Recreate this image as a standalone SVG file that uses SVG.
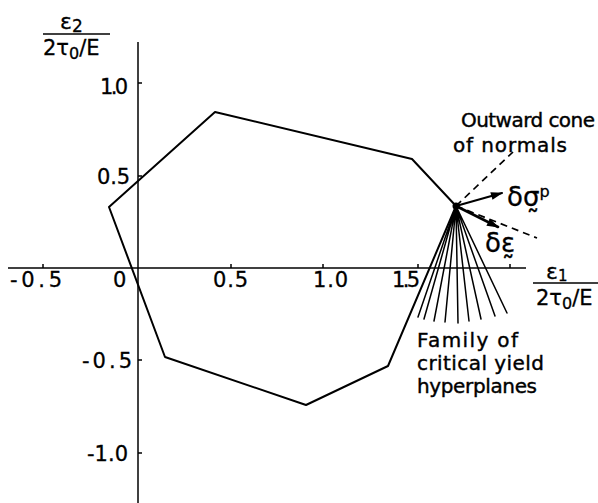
<svg xmlns="http://www.w3.org/2000/svg" width="598" height="503" viewBox="0 0 598 503">
<defs>
<style>
.ln{stroke:#000;stroke-width:2;fill:none;stroke-linejoin:round;stroke-linecap:round}
.ax{stroke:#000;stroke-width:1.5;fill:none}
.ds{stroke:#000;stroke-width:1.7;fill:none;stroke-dasharray:7 5}
.t{font-family:"DejaVu Sans","Liberation Sans",sans-serif;font-size:21px;fill:#000;stroke:#000;stroke-width:0.3}
.lb{font-family:"DejaVu Sans","Liberation Sans",sans-serif;font-size:20px;fill:#000;stroke:#000;stroke-width:0.4}
.m{font-family:"DejaVu Sans","Liberation Sans",sans-serif;font-size:20px;fill:#000;stroke:#000;stroke-width:0.3}
</style>
<marker id="ah" viewBox="0 0 12 8" refX="11" refY="4" markerWidth="13" markerHeight="8" markerUnits="userSpaceOnUse" orient="auto">
<path d="M0,0 L12,4 L0,8 Z" fill="#000"/>
</marker>
</defs>
<rect width="598" height="503" fill="#fff"/>

<g id="axes">
<line class="ax" x1="138" y1="42" x2="138" y2="503"/>
<line class="ax" x1="8" y1="268" x2="526" y2="268"/>
<path class="ax" d="M43,264V268 M231,264V268 M323,264V268 M418,264V268 M510,264V268 M138,83H142 M138,176H142 M138,360H142 M138,453H142"/>
</g>

<g id="tick-labels">
<text class="t" x="10" y="287" textLength="52" lengthAdjust="spacing">-0.5</text>
<text class="t" x="113" y="287">0</text>
<text class="t" x="213" y="287" textLength="35" lengthAdjust="spacing">0.5</text>
<text class="t" x="313" y="287" textLength="35" lengthAdjust="spacing">1.0</text>
<text class="t" x="392" y="287" textLength="28" lengthAdjust="spacing">1.5</text>
<text class="t" x="100" y="94" textLength="28" lengthAdjust="spacing">1.0</text>
<text class="t" x="97" y="184" textLength="33" lengthAdjust="spacing">0.5</text>
<text class="t" x="82" y="368" textLength="50" lengthAdjust="spacing">-0.5</text>
<text class="t" x="87" y="461" textLength="41" lengthAdjust="spacing">-1.0</text>
</g>

<g id="y-label">
<text class="m" x="60" y="29" style="font-size:22px">ε<tspan style="font-size:17px" dy="3">2</tspan></text>
<line class="ax" x1="43" y1="34" x2="110" y2="34"/>
<text class="m" x="43" y="55" style="font-size:21px">2τ<tspan style="font-size:16px" dy="4">0</tspan><tspan dy="-4">/E</tspan></text>
</g>

<g id="x-label">
<text class="m" x="546" y="279" style="font-size:22px">ε<tspan style="font-size:15px" dy="2">1</tspan></text>
<line class="ax" x1="533" y1="283" x2="598" y2="283"/>
<text class="m" x="536" y="305" style="font-size:21px">2τ<tspan style="font-size:16px" dy="4">0</tspan><tspan dy="-4">/E</tspan></text>
</g>

<g id="yield-surface">
<polygon class="ln" points="109,207 215,112 412,159 456,206 388,366 306,405 165,357"/>
</g>

<g id="hyperplanes">
<path class="ln" style="stroke-width:1.5" d="M456,206L418,317 M456,206L424,319 M456,206L434,321 M456,206L445,322 M456,206L458,323 M456,206L469,321 M456,206L481,319 M456,206L495,316 M456,206L507,313"/>
<circle cx="456" cy="206" r="3.5" fill="#000"/>
</g>

<g id="connectors">
<line class="ds" x1="456" y1="206" x2="513" y2="152"/>
<line class="ds" x1="456" y1="206" x2="537" y2="238"/>
<line class="ln" x1="456" y1="206" x2="502" y2="193" marker-end="url(#ah)"/>
<line class="ln" style="stroke-width:2.6" x1="456" y1="206" x2="498" y2="227" marker-end="url(#ah)"/>
</g>

<g id="labels">
<text class="lb" x="461" y="127" textLength="134" lengthAdjust="spacing">Outward cone</text>
<text class="lb" x="453" y="152" textLength="114" lengthAdjust="spacing">of normals</text>
<text class="m" x="507" y="206" style="font-size:26px">δσ̰<tspan style="font-size:16px" dy="-9">p</tspan></text>
<text class="m" x="485" y="252" style="font-size:26px">δε̰</text>
<text class="lb" x="417" y="347" textLength="101" lengthAdjust="spacing">Family  of</text>
<text class="lb" x="417" y="370" textLength="127" lengthAdjust="spacing">critical yield</text>
<text class="lb" x="417" y="393" textLength="120" lengthAdjust="spacing">hyperplanes</text>
</g>
</svg>
